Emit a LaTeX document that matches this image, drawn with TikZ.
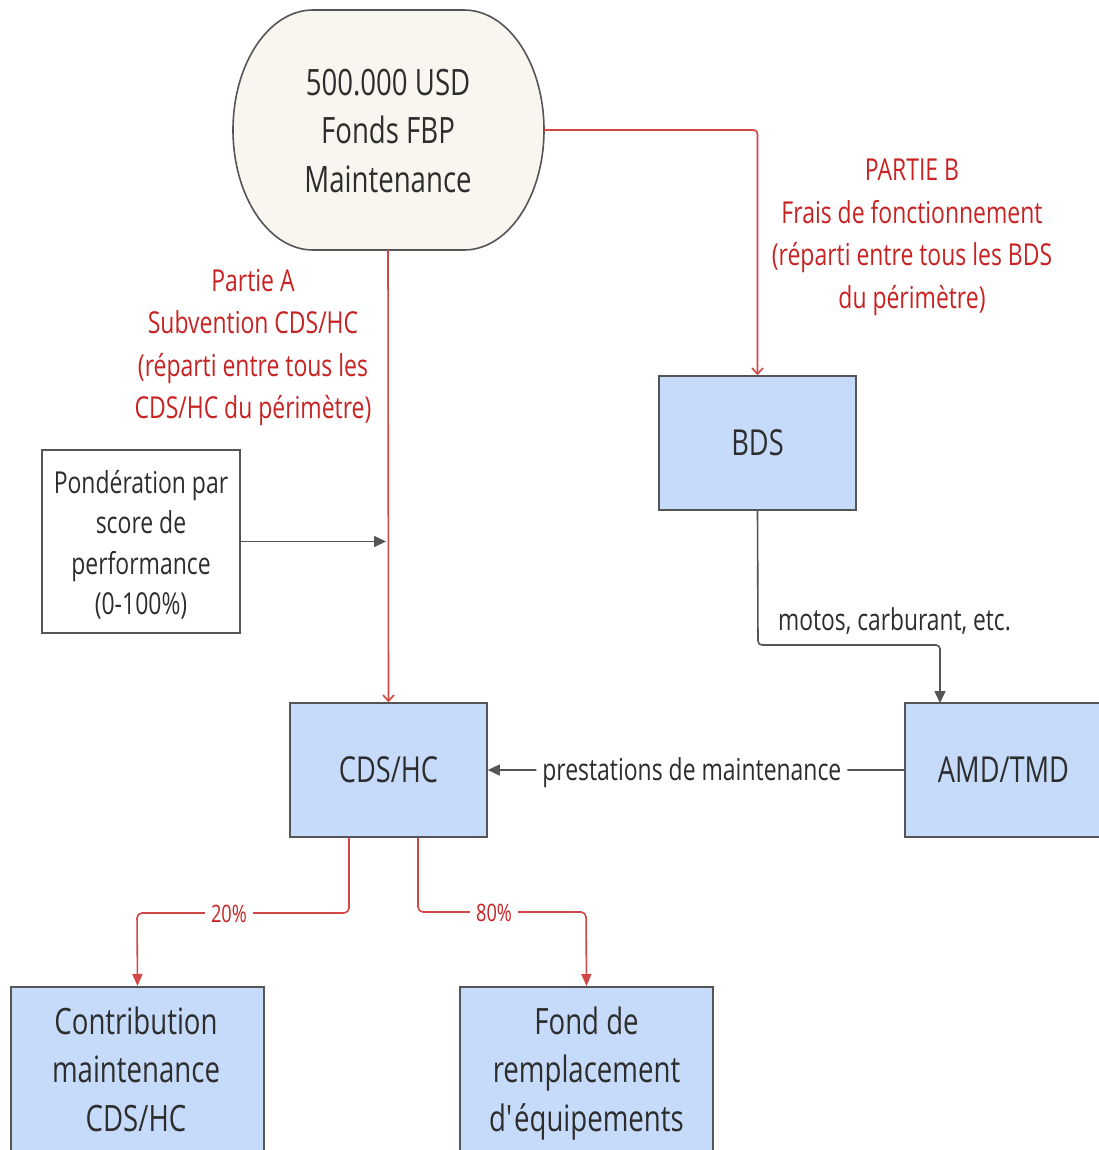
\documentclass[tikz,border=0pt]{standalone}
\usepackage{fontspec}
\setmainfont[FakeStretch=0.76]{Open Sans}
\usetikzlibrary{arrows.meta,calc}
\definecolor{txt}{RGB}{45,45,45}
\definecolor{bord}{RGB}{85,85,85}
\definecolor{bluefill}{RGB}{198,219,250}
\definecolor{beige}{RGB}{249,246,239}
\definecolor{redtxt}{RGB}{200,35,35}
\definecolor{redline}{RGB}{210,70,70}
\tikzset{
  box/.style={draw=bord, line width=1.6pt, fill=bluefill, text=txt, align=center, inner sep=0pt},
  bigtext/.style={font=\fontsize{36.3}{48.5}\selectfont},
  redlbl/.style={text=redtxt, align=center, font=\fontsize{30.2}{42.5}\selectfont},
  conn/.style={draw=bord, line width=1.6pt, rounded corners=4pt, -{Triangle[length=12pt,width=11pt]}},
  rconn/.style={draw=redline, line width=1.6pt, rounded corners=4pt, -{Straight Barb[length=6pt,width=11pt,line width=1.6pt]}},
  rconn2/.style={draw=redline, line width=1.6pt, rounded corners=5pt, -{Triangle[length=12pt,width=10pt]}},
}
\begin{document}
\begin{tikzpicture}[x=1pt,y=-1pt]
\useasboundingbox[fill=white] (0,0) rectangle (1099,1150);
\begin{scope}
\clip (0,0) rectangle (1099,1150);
% top stadium
\draw[draw=bord, line width=1.6pt, fill=beige] (313,10) -- (464,10)
  arc[start angle=-90, end angle=90, x radius=80, y radius=120] -- (313,250)
  arc[start angle=90, end angle=270, x radius=80, y radius=120] -- cycle;
\node[text=txt, align=center, bigtext] (fund) at (388,131) {500.000 USD\\Fonds FBP\\Maintenance};
\coordinate (fundS) at (388,250);
\coordinate (fundE) at (544,130);

\node[box, minimum width=197pt, minimum height=134pt, font=\fontsize{35.8}{40}\selectfont] (bds) at (757.5,443) {BDS};
\node[box, minimum width=197pt, minimum height=134pt, font=\fontsize{35.8}{40}\selectfont] (cds) at (388.5,770) {CDS/HC};
\node[box, minimum width=197pt, minimum height=134pt, font=\fontsize{35.8}{40}\selectfont] (amd) at (1003.5,770) {AMD/TMD};
\node[box, fill=white, minimum width=198pt, minimum height=183pt] (pond) at (141,541.5) {};
\node[text=txt, align=center, font=\fontsize{30.2}{40.5}\selectfont] (pondT) at (141,545) {Pondération par\\score de\\performance\\(0-100\%)};
\node[box, minimum width=253pt, minimum height=200pt, anchor=north] (contrib) at (137.5,986) {};
\node[text=txt, align=center, bigtext, anchor=north] (contribT) at (136,1003) {Contribution\\maintenance\\CDS/HC};
\node[box, minimum width=253pt, minimum height=200pt, anchor=north] (fond) at (586.5,986) {};
\node[text=txt, align=center, bigtext, anchor=north] (fondT) at (586.5,1003) {Fond de\\remplacement\\d\textquotesingle équipements};
\end{scope}

% red labels
\node[redlbl] (pa) at (253,347.5) {Partie A\\Subvention CDS/HC\\(réparti entre tous les\\CDS/HC du périmètre)};
\node[redlbl] (pb) at (912,237.5) {PARTIE B\\Frais de fonctionnement\\(réparti entre tous les BDS\\du périmètre)};

% red connectors
\draw[rconn] (fundS) -- (cds.north);
\draw[rconn] (fundE) -- (bds.north |- fundE) -- (bds.north);
% pondération
\draw[conn] (pond.east) -- (386,541.5);
% BDS to AMD
\draw[conn] (bds.south) -- (758,645) -- (940,645) -- (940,703);
\node[text=txt, font=\fontsize{30}{34}\selectfont] (motos) at (894.5,621) {motos, carburant, etc.};
% AMD to CDS
\draw[conn] (amd.west) -- (cds.east) node[pos=0.51, fill=white, inner xsep=6pt, inner ysep=2pt, text=txt, font=\fontsize{30.2}{34}\selectfont, yshift=-2.5pt] (prest) {prestations de maintenance};
% splits
\draw[rconn2] ($(cds.south)+(-39.5,0)$) -- (349,913) -- (137,913) -- (contrib.north);
\node[fill=white, text=redtxt, inner xsep=6pt, inner ysep=1pt, font=\fontsize{24}{26}\selectfont] (p20) at (229,914) {20\%};
\draw[rconn2] ($(cds.south)+(29.5,0)$) -- (418,912) -- (586,912) -- (fond.north);
\node[fill=white, text=redtxt, inner xsep=6pt, inner ysep=1pt, font=\fontsize{24}{26}\selectfont] (p80) at (494,913) {80\%};
\end{tikzpicture}
\end{document}
